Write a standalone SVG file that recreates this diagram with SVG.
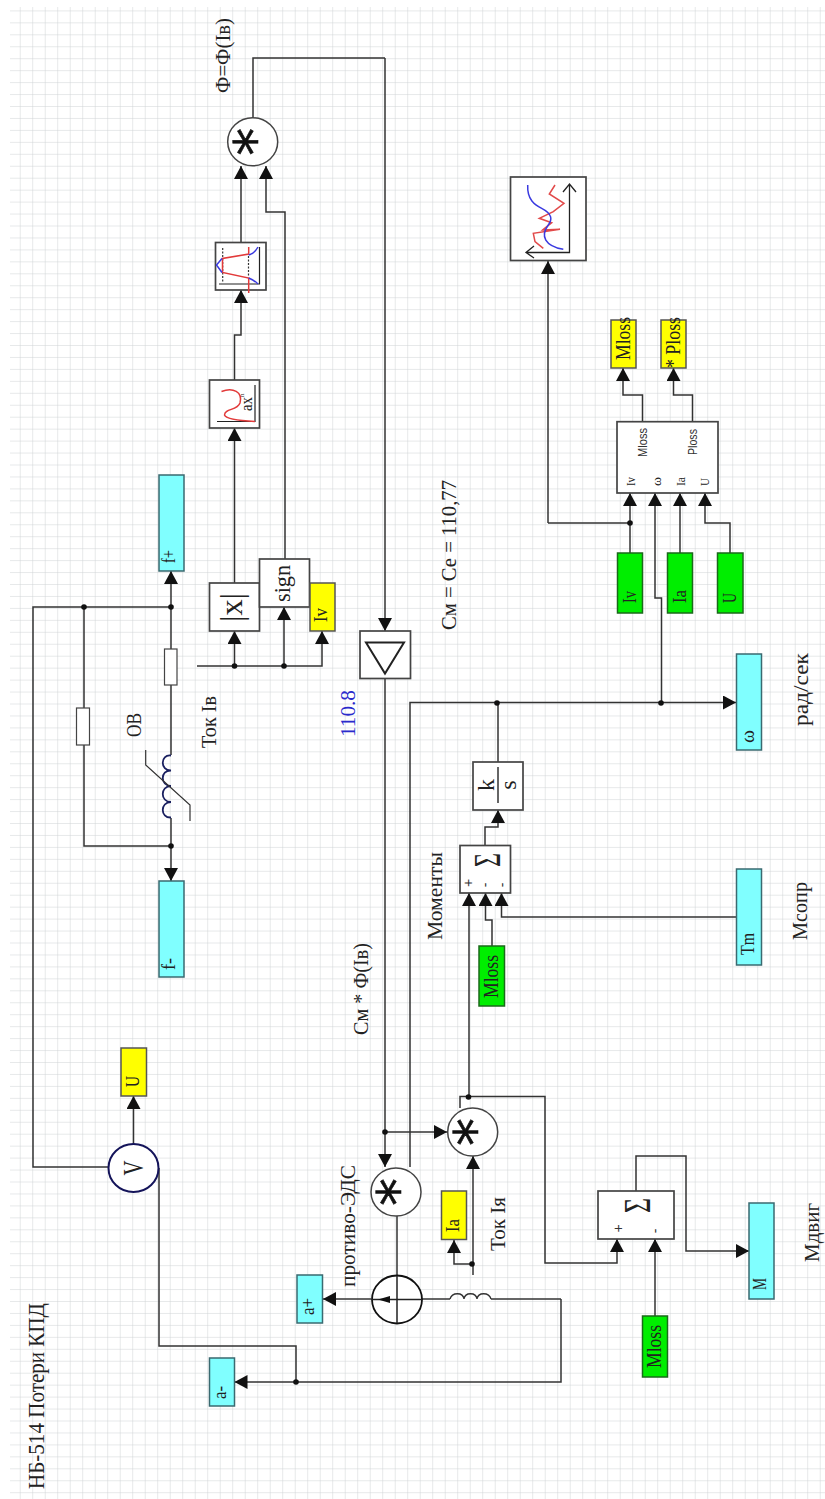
<svg xmlns="http://www.w3.org/2000/svg" width="825" height="1499" viewBox="0 0 825 1499">
<style>
.b{fill:#fff;stroke:#444;stroke-width:1.7}
.cy{fill:#80ffff;stroke:#3a6a70;stroke-width:1.5}
.ye{fill:#ffff00;stroke:#555;stroke-width:1.5}
.gr{fill:#00ee00;stroke:#1a6a1a;stroke-width:1.5}
.c{fill:#fff;stroke:#444;stroke-width:1.5}
.w{fill:none;stroke:#333;stroke-width:1.5;stroke-linejoin:miter}
.a{fill:none;stroke:#333;stroke-width:1.5;marker-end:url(#ah)}
.t{font-family:"Liberation Serif","DejaVu Serif",serif;fill:#222}
.s{font-family:"Liberation Sans","DejaVu Sans",sans-serif;fill:#333}
.m{font-family:"DejaVu Sans",sans-serif;fill:#111;stroke:#111;stroke-width:.6}
.d{fill:#111}
</style>
<defs>
<marker id="ah" markerUnits="userSpaceOnUse" markerWidth="14" markerHeight="14" refX="13" refY="7" orient="auto"><path d="M0,0L13,7L0,14z" fill="#111"/></marker>
<pattern id="g" patternUnits="userSpaceOnUse" x="8.2" y="11.4" width="12.5" height="11.95"><path d="M12.5,0V11.95M0,11.95H12.5" fill="none" stroke="#cfd3d5" stroke-width="1"/></pattern>
</defs>
<rect width="825" height="1499" fill="#fff"/>
<rect x="10" y="7" width="815" height="1492" fill="url(#g)"/>

<g id="connectors">
<path class="w" d="M253,118V58H385"/><path class="a" d="M385,58V631"/>
<path class="a" d="M241,242V166"/>
<path class="a" d="M285,559V212H266V166"/>
<path class="a" d="M234.500,380V335H241V290"/>
<path class="a" d="M234.500,583V428"/>
<path class="a" d="M197,666H322V631"/>
<path class="a" d="M234.500,666V631"/>
<path class="a" d="M284,666V607"/>
<path class="a" d="M171,649V571"/>
<path class="w" d="M171,685V755"/>
<path class="a" d="M171,818V881"/>
<path class="w" d="M171,607H33V1167H108"/>
<path class="w" d="M84,607V846H171"/>
<path class="a" d="M133.500,1144V1096"/>
<path class="w" d="M159,1168V1346H296V1382"/>
<path class="a" d="M561,1299V1382H234.500"/>
<path class="w" d="M561,1299H491"/>
<path class="w" d="M450,1299H421"/>
<path class="a" d="M385,678V1167"/>
<path class="a" d="M661.500,703V598H655V493"/>
<path class="a" d="M410,1167V702.500H736"/>
<path class="a" d="M385,1132H447"/>
<path class="w" d="M397,1216V1276"/>
<path class="a" d="M371,1299H323"/>
<path class="a" d="M473,1275V1156"/>
<path class="a" d="M472,1264H454V1240"/>
<path class="a" d="M460,1108V1096.500H545V1263H617V1239"/>
<path class="a" d="M469,1097V893"/>
<path class="a" d="M636,1191V1156H686V1251H749"/>
<path class="a" d="M655,1316V1239"/>
<path class="a" d="M492,946V920H485.500V893"/>
<path class="a" d="M736,917H501.500V893"/>
<path class="a" d="M485,845.500V827H498V810"/>
<path class="w" d="M498,762V702.500"/>
<path class="a" d="M548,523V261"/>
<path class="w" d="M548,523H630"/>
<path class="a" d="M630,553V493"/>
<path class="a" d="M680,553V493"/>
<path class="a" d="M730,553V523H705V493"/>
<path class="a" d="M642.500,421.700V395H623V368"/>
<path class="a" d="M692.500,421.700V395H673.500V368"/>
<g class="d">
<circle cx="234.500" cy="666" r="2.800"/><circle cx="284" cy="666" r="2.800"/>
<circle cx="171" cy="607" r="2.800"/><circle cx="84" cy="607" r="2.800"/><circle cx="171" cy="846" r="2.800"/>
<circle cx="385" cy="1132" r="2.800"/><circle cx="296" cy="1382" r="2.800"/>
<circle cx="472" cy="1264" r="2.800"/><circle cx="468.500" cy="1097" r="2.800"/>
<circle cx="497" cy="703" r="2.800"/><circle cx="661" cy="703" r="2.800"/><circle cx="630" cy="523" r="2.800"/>
</g>
</g>

<g id="mult-flux">
<ellipse class="c" cx="252.700" cy="141.700" rx="25" ry="24"/>
<text class="m" text-anchor="middle" font-size="56" transform="translate(274,141.700) rotate(-90)">*</text>
</g>
<g id="saturation">
<rect class="b" x="215.500" y="242.500" width="50.500" height="47.500"/>
<path d="M222.700,248V283M248.500,256V277" fill="none" stroke="#333" stroke-width="1.200" stroke-dasharray="2 1.500"/>
<path d="M259.500,247V284H219" fill="none" stroke="#222" stroke-width="1.200"/>
<path d="M248.700,247V254L222.500,258.500V272.500L248.700,278V293" fill="none" stroke="#e23a3a" stroke-width="1.500"/>
<path d="M258,247Q254,254 248.700,255M222,258.500L216.500,265L222,272.500M248.700,278Q254,280 258,284" fill="none" stroke="#3a3ae0" stroke-width="1.500"/>
</g>
<g id="power">
<rect class="b" x="209.500" y="380" width="50" height="48"/>
<path d="M255,385V421.500H217" fill="none" stroke="#222" stroke-width="1.200"/>
<path d="M221.500,391.500C233,387 243,392 240,403C237,411 225,408 224.500,415C226,420 245,421 255,421.500" fill="none" stroke="#e23a3a" stroke-width="1.500"/>
<text class="t" font-size="17" textLength="14" lengthAdjust="spacingAndGlyphs" transform="translate(252,411) rotate(-90)">ax</text>
<text class="t" font-size="7" transform="translate(243.500,397) rotate(-90)">n</text>
</g>
<g id="abs">
<rect class="b" x="209.500" y="583" width="50" height="48"/>
<text class="t" font-size="32" textLength="29" lengthAdjust="spacingAndGlyphs" transform="translate(242,622) rotate(-90)">|x|</text>
</g>
<g id="sign">
<rect class="b" x="259.500" y="559" width="50" height="48"/>
<text class="t" font-size="24" textLength="37" lengthAdjust="spacingAndGlyphs" transform="translate(290,602) rotate(-90)">sign</text>
</g>
<g id="iv-out">
<rect class="ye" x="310" y="583" width="25" height="48"/>
<text class="t" font-size="18" textLength="14" lengthAdjust="spacingAndGlyphs" transform="translate(327,622) rotate(-90)">Iv</text>
</g>
<g id="f-plus">
<rect class="cy" x="159" y="475" width="25" height="96"/>
<text class="t" font-size="18" textLength="13" lengthAdjust="spacingAndGlyphs" transform="translate(175,563) rotate(-90)">f+</text>
</g>
<g id="f-minus">
<rect class="cy" x="159" y="881" width="25" height="96"/>
<text class="t" font-size="18" textLength="12" lengthAdjust="spacingAndGlyphs" transform="translate(175,970) rotate(-90)">f-</text>
</g>
<g id="shunt-series">
<rect x="164.500" y="649" width="12.500" height="36" fill="#fff" stroke="#444" stroke-width="1.200"/>
</g>
<g id="shunt-parallel">
<rect x="76.500" y="708" width="13" height="37" fill="#fff" stroke="#444" stroke-width="1.200"/>
</g>
<g id="field-coil">
<path d="M171,755.500C160,754 160,771 171,770.500C160,770 160,786 171,786C160,786 160,802 171,802C160,802 160,818 171,817.500" fill="none" stroke="#1a2060" stroke-width="1.800"/>
<path d="M145.700,750V765L190,805V821" fill="none" stroke="#333" stroke-width="1.200"/>
</g>
<g id="gain">
<rect class="b" x="360" y="631" width="50.500" height="47.500"/>
<path d="M366,642.500H404L385,673.500z" fill="#fff" stroke="#222" stroke-width="2"/>
</g>
<g id="voltmeter">
<ellipse cx="133.500" cy="1168" rx="25" ry="24" fill="#fff" stroke="#14145a" stroke-width="2"/>
<text class="t" font-size="29" text-anchor="middle" textLength="15" lengthAdjust="spacingAndGlyphs" transform="translate(143,1168) rotate(-90)">V</text>
</g>
<g id="u-out">
<rect class="ye" x="121" y="1048" width="25.500" height="48"/>
<text class="t" font-size="18" textLength="11" lengthAdjust="spacingAndGlyphs" transform="translate(138.500,1087) rotate(-90)">U</text>
</g>
<g id="mult-emf">
<ellipse class="c" cx="396" cy="1192" rx="25" ry="24"/>
<text class="m" text-anchor="middle" font-size="56" transform="translate(417.300,1192) rotate(-90)">*</text>
</g>
<g id="emf-source">
<ellipse cx="397" cy="1299.500" rx="25" ry="24" fill="#fff" stroke="#111" stroke-width="1.800"/>
<path d="M397,1276V1323M371.500,1299.500H422" fill="none" stroke="#222" stroke-width="1.500"/>
<path d="M378,1299.500L390,1296V1303z" fill="#111"/>
</g>
<g id="a-plus">
<rect class="cy" x="297" y="1275" width="25.500" height="48"/>
<text class="t" font-size="18" textLength="17" lengthAdjust="spacingAndGlyphs" transform="translate(314,1315) rotate(-90)">a+</text>
</g>
<g id="a-minus">
<rect class="cy" x="209.500" y="1358" width="25" height="48"/>
<text class="t" font-size="18" textLength="13" lengthAdjust="spacingAndGlyphs" transform="translate(226,1399) rotate(-90)">a-</text>
</g>
<g id="armature-coil">
<path d="M450,1299C452,1292 463,1292 464,1299C465,1292 476,1292 477,1299C478,1292 489,1292 491,1299" fill="none" stroke="#333" stroke-width="1.300"/>
</g>
<g id="ia-out">
<rect class="ye" x="441.500" y="1191" width="25" height="48.500"/>
<text class="t" font-size="19" textLength="13" lengthAdjust="spacingAndGlyphs" transform="translate(459,1232) rotate(-90)">Ia</text>
</g>
<g id="mult-torque">
<ellipse class="c" cx="472.700" cy="1132" rx="25" ry="24"/>
<text class="m" text-anchor="middle" font-size="56" transform="translate(494,1132) rotate(-90)">*</text>
</g>
<g id="sum-motor">
<rect class="b" x="598" y="1191" width="76" height="48"/>
<text class="t" font-size="38" textLength="15" lengthAdjust="spacingAndGlyphs" transform="translate(650,1213) rotate(-90)">Σ</text>
<text class="s" font-size="14" text-anchor="middle" transform="translate(623,1228.500) rotate(-90)">+</text>
<text class="s" font-size="14" text-anchor="middle" transform="translate(660,1231) rotate(-90)">-</text>
</g>
<g id="mloss-in-2">
<rect class="gr" x="642.500" y="1316" width="25" height="61"/>
<text class="t" font-size="21" textLength="43" lengthAdjust="spacingAndGlyphs" transform="translate(661,1368) rotate(-90)">Mloss</text>
</g>
<g id="m-out">
<rect class="cy" x="749" y="1203" width="25" height="96"/>
<text class="t" font-size="18" textLength="12" lengthAdjust="spacingAndGlyphs" transform="translate(766,1290) rotate(-90)">M</text>
</g>
<g id="sum-moments">
<rect class="b" x="460" y="845.500" width="50.500" height="47.500"/>
<text class="t" font-size="38" textLength="14" lengthAdjust="spacingAndGlyphs" transform="translate(500,867) rotate(-90)">Σ</text>
<text class="s" font-size="14" text-anchor="middle" transform="translate(473,883) rotate(-90)">+</text>
<text class="s" font-size="14" text-anchor="middle" transform="translate(490,885) rotate(-90)">-</text>
<text class="s" font-size="14" text-anchor="middle" transform="translate(507,885) rotate(-90)">-</text>
</g>
<g id="mloss-in-1">
<rect class="gr" x="479" y="946" width="25.500" height="60"/>
<text class="t" font-size="21" textLength="43" lengthAdjust="spacingAndGlyphs" transform="translate(498,998) rotate(-90)">Mloss</text>
</g>
<g id="tm-in">
<rect class="cy" x="736.500" y="869" width="25" height="96"/>
<text class="t" font-size="18" textLength="22" lengthAdjust="spacingAndGlyphs" transform="translate(753.500,955) rotate(-90)">Tm</text>
</g>
<g id="integrator">
<rect class="b" x="473" y="762" width="50" height="48"/>
<path d="M498,767V803" fill="none" stroke="#333" stroke-width="1.500"/>
<text class="t" font-size="24" text-anchor="middle" transform="translate(494,785) rotate(-90)">k</text>
<text class="t" font-size="24" text-anchor="middle" transform="translate(516,785) rotate(-90)">s</text>
</g>
<g id="omega-out">
<rect class="cy" x="736.500" y="654" width="25" height="96"/>
<text class="t" font-size="18" textLength="13" lengthAdjust="spacingAndGlyphs" transform="translate(753.500,743) rotate(-90)">ω</text>
</g>
<g id="loss-block">
<rect class="b" x="617" y="421.700" width="101" height="71.300"/>
<text class="s" font-size="12.500" textLength="29" lengthAdjust="spacingAndGlyphs" transform="translate(647,457) rotate(-90)">Mloss</text>
<text class="s" font-size="12.500" textLength="26" lengthAdjust="spacingAndGlyphs" transform="translate(697,455) rotate(-90)">Ploss</text>
<text class="t" font-size="13" textLength="9" lengthAdjust="spacingAndGlyphs" transform="translate(635,486) rotate(-90)">Iv</text>
<text class="t" font-size="13" textLength="9" lengthAdjust="spacingAndGlyphs" transform="translate(661,486) rotate(-90)">ω</text>
<text class="t" font-size="13" textLength="9" lengthAdjust="spacingAndGlyphs" transform="translate(685,486) rotate(-90)">Ia</text>
<text class="t" font-size="13" textLength="8" lengthAdjust="spacingAndGlyphs" transform="translate(709,486) rotate(-90)">U</text>
</g>
<g id="mloss-out">
<rect class="ye" x="611" y="320" width="25" height="48"/>
<text class="t" font-size="21" textLength="43" lengthAdjust="spacingAndGlyphs" transform="translate(629.500,360) rotate(-90)">Mloss</text>
</g>
<g id="ploss-out">
<rect class="ye" x="661" y="320" width="25" height="48"/>
<text class="t" font-size="21" textLength="51" lengthAdjust="spacingAndGlyphs" transform="translate(679.500,368) rotate(-90)">* Ploss</text>
</g>
<g id="iv-in">
<rect class="gr" x="617.500" y="553" width="25" height="60"/>
<text class="t" font-size="19" textLength="12" lengthAdjust="spacingAndGlyphs" transform="translate(635.500,603) rotate(-90)">Iv</text>
</g>
<g id="ia-in">
<rect class="gr" x="667.500" y="553" width="25" height="60"/>
<text class="t" font-size="19" textLength="13" lengthAdjust="spacingAndGlyphs" transform="translate(685.500,603) rotate(-90)">Ia</text>
</g>
<g id="u-in">
<rect class="gr" x="717.500" y="553" width="25.500" height="60"/>
<text class="t" font-size="19" textLength="10" lengthAdjust="spacingAndGlyphs" transform="translate(735.500,603) rotate(-90)">U</text>
</g>
<g id="plot">
<rect class="b" x="510.500" y="177" width="75.500" height="83.500"/>
<path d="M569.500,184V252.500H526M563,192L569.500,184L576,192M534,246L526,252.500L534,258" fill="none" stroke="#222" stroke-width="1.300"/>
<path d="M555,185L549.300,194L564,203.300L553.300,211.700L539.300,218.300L551.700,222.700L542.700,230L560,229.300L533.300,233.300L535,241.700L543.300,248.300" fill="none" stroke="#e24a4a" stroke-width="1.500"/>
<path d="M527.700,185C527,200 535,205 541.700,208.300C553,214 552,220 548.300,225C540,236 545,246 563.300,249.300" fill="none" stroke="#3a3ae0" stroke-width="1.500"/>
</g>

<g id="labels">
<text class="t" font-size="24" textLength="186" lengthAdjust="spacingAndGlyphs" transform="translate(44,1489) rotate(-90)">НБ-514 Потери КПД</text>
<text class="t" font-size="21" textLength="75" lengthAdjust="spacingAndGlyphs" transform="translate(230,93) rotate(-90)">Ф=Ф(Iв)</text>
<text class="t" font-size="21" textLength="122" lengthAdjust="spacingAndGlyphs" transform="translate(355,1287) rotate(-90)">противо-ЭДС</text>
<text class="t" font-size="21" textLength="92" lengthAdjust="spacingAndGlyphs" transform="translate(368,1035) rotate(-90)">См * Ф(Iв)</text>
<text class="t" font-size="21" textLength="47" lengthAdjust="spacingAndGlyphs" style="fill:#2a2acc" transform="translate(355,737) rotate(-90)">110.8</text>
<text class="t" font-size="21" textLength="24" lengthAdjust="spacingAndGlyphs" transform="translate(141,737) rotate(-90)">ОВ</text>
<text class="t" font-size="21" textLength="52" lengthAdjust="spacingAndGlyphs" transform="translate(216,748) rotate(-90)">Ток Iв</text>
<text class="t" font-size="21" textLength="150" lengthAdjust="spacingAndGlyphs" transform="translate(456,630) rotate(-90)">См = Се = 110,77</text>
<text class="t" font-size="21" textLength="88" lengthAdjust="spacingAndGlyphs" transform="translate(442,940) rotate(-90)">Моменты</text>
<text class="t" font-size="21" textLength="58" lengthAdjust="spacingAndGlyphs" transform="translate(807,940) rotate(-90)">Мсопр</text>
<text class="t" font-size="21" textLength="73" lengthAdjust="spacingAndGlyphs" transform="translate(808,726) rotate(-90)">рад/сек</text>
<text class="t" font-size="21" textLength="59" lengthAdjust="spacingAndGlyphs" transform="translate(819,1262) rotate(-90)">Мдвиг</text>
<text class="t" font-size="21" textLength="54" lengthAdjust="spacingAndGlyphs" transform="translate(505,1251) rotate(-90)">Ток Iя</text>
</g>
</svg>
